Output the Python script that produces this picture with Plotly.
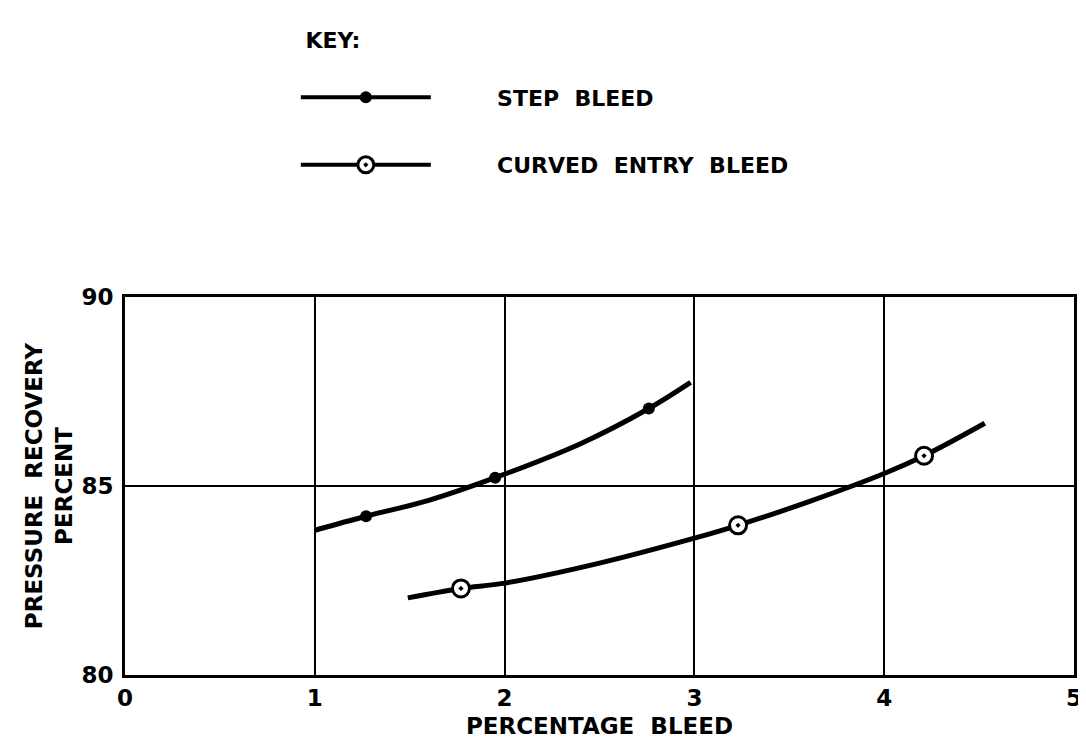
import plotly.graph_objects as go

# datos
step_curve_x = [1.0, 1.27, 1.6, 1.95, 2.4, 2.76, 2.98]
step_curve_y = [83.83, 84.2, 84.62, 85.22, 86.12, 87.05, 87.74]
step_pts_x = [1.27, 1.95, 2.76]
step_pts_y = [84.2, 85.22, 87.05]

curved_curve_x = [1.49, 1.77, 2.0, 2.5, 3.0, 3.23, 3.6, 4.0, 4.21, 4.53]
curved_curve_y = [82.04, 82.29, 82.43, 82.96, 83.62, 83.96, 84.58, 85.33, 85.8, 86.66]
curved_pts_x = [1.77, 3.23, 4.21]
curved_pts_y = [82.29, 83.96, 85.8]

x_ticks = [0, 1, 2, 3, 4, 5]
y_ticks = [80, 85, 90]

FONT = "DejaVu Sans"
NEGRO = "black"
PAD = "\u00a0" * 8  # hueco entre símbolo y texto de la leyenda

fig = go.Figure()

# curvas
fig.add_trace(go.Scatter(
    x=step_curve_x, y=step_curve_y, mode="lines",
    line=dict(color=NEGRO, width=5, shape="spline", smoothing=1.0),
    showlegend=False, hoverinfo="skip",
))
fig.add_trace(go.Scatter(
    x=curved_curve_x, y=curved_curve_y, mode="lines",
    line=dict(color=NEGRO, width=5, shape="spline", smoothing=1.0),
    showlegend=False, hoverinfo="skip",
))
# puntos
fig.add_trace(go.Scatter(
    x=step_pts_x, y=step_pts_y, mode="markers",
    marker=dict(symbol="circle", size=12, color=NEGRO),
    showlegend=False, name="STEP BLEED",
))
fig.add_trace(go.Scatter(
    x=curved_pts_x, y=curved_pts_y, mode="markers",
    marker=dict(symbol="circle-dot", size=17, color="white",
                line=dict(color=NEGRO, width=3)),
    showlegend=False, name="CURVED ENTRY BLEED",
))

# entradas de la leyenda
fig.add_trace(go.Scatter(
    x=[None], y=[None], mode="lines+markers", name=PAD + "STEP  BLEED",
    line=dict(color=NEGRO, width=4),
    marker=dict(symbol="circle", size=12, color=NEGRO),
    legendgroup="a",
))
fig.add_trace(go.Scatter(
    x=[None], y=[None], mode="lines+markers", name=PAD + "CURVED  ENTRY  BLEED",
    line=dict(color=NEGRO, width=4),
    marker=dict(symbol="circle-dot", size=17, color="white",
                line=dict(color=NEGRO, width=3)),
    legendgroup="b",
))

fig.update_layout(
    width=1086, height=740,
    margin=dict(l=117, r=14, t=283, b=73),
    paper_bgcolor="white", plot_bgcolor="white",
    font=dict(family=FONT, size=22, color=NEGRO),
    legend=dict(
        x=0.18, y=1.735, xanchor="left", yanchor="top",
        title=dict(text="<b>\u00a0KEY:</b><br>\u00a0", side="top", font=dict(size=22)),
        itemwidth=130, tracegroupgap=36,
        traceorder="grouped",
        font=dict(size=22, family=FONT, weight="bold"),
        bgcolor="rgba(0,0,0,0)",
    ),
    xaxis=dict(
        range=[0, 5], tickvals=x_ticks, ticktext=[str(v) for v in x_ticks],
        showgrid=True, gridcolor=NEGRO, gridwidth=1.6,
        showline=True, linecolor=NEGRO, linewidth=3, mirror=True,
        zeroline=False, ticks="",
        tickfont=dict(size=23, weight="bold"),
        title=dict(text="<b>PERCENTAGE  BLEED</b>", font=dict(size=23), standoff=9),
    ),
    yaxis=dict(
        range=[80, 90], tickvals=y_ticks, ticktext=[str(v) for v in y_ticks],
        showgrid=True, gridcolor=NEGRO, gridwidth=1.6,
        showline=True, linecolor=NEGRO, linewidth=3, mirror=True,
        zeroline=False, ticks="", ticklabelstandoff=4,
        tickfont=dict(size=23, weight="bold"),
        title=dict(text="<b>PRESSURE  RECOVERY<br>PERCENT</b>", font=dict(size=23), standoff=3),
    ),
)

fig.write_html("out.html")
